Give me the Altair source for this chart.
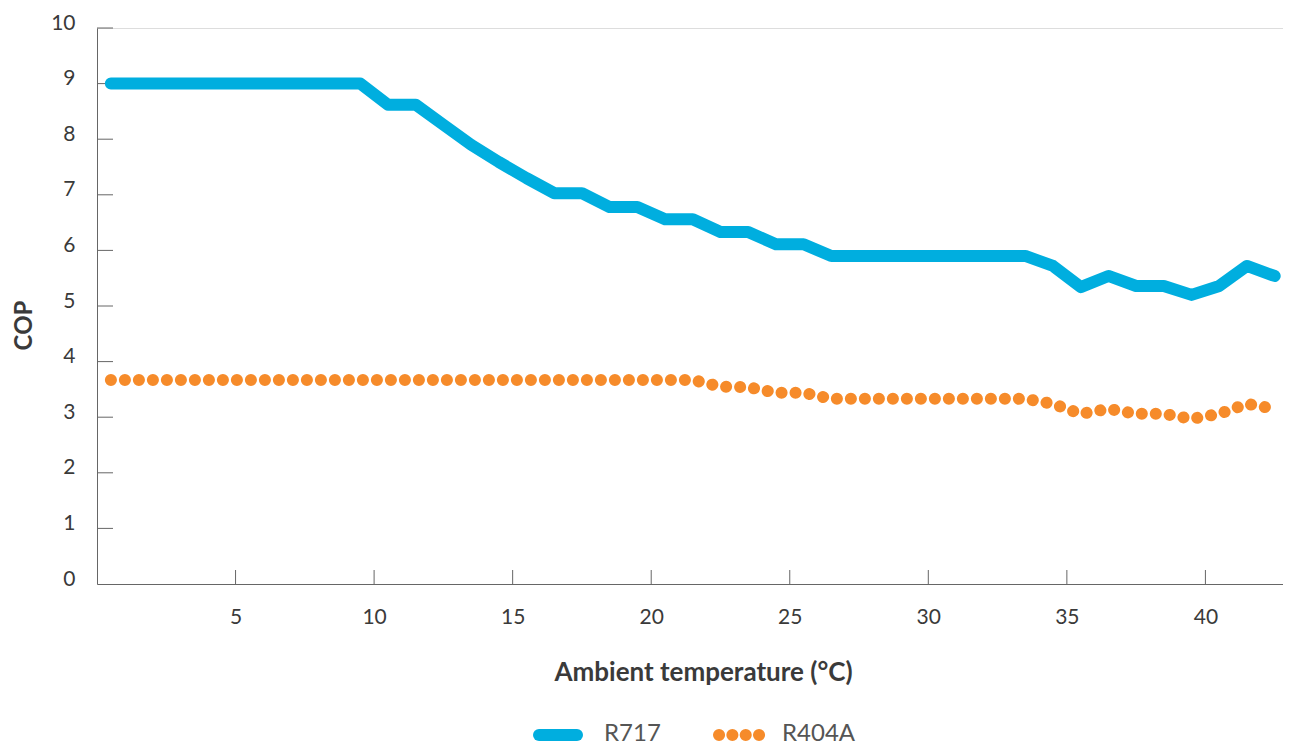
import altair as alt
import pandas as pd

# Data (x positions are category centres on the temperature scale)
temps = [0.5, 1.5, 2.5, 3.5, 4.5, 5.5, 6.5, 7.5, 8.5, 9.5,
         10.5, 11.5, 12.5, 13.5, 14.5, 15.5, 16.5, 17.5, 18.5, 19.5,
         20.5, 21.5, 22.5, 23.5, 24.5, 25.5, 26.5, 27.5, 28.5, 29.5,
         30.5, 31.5, 32.5, 33.5, 34.5, 35.5, 36.5, 37.5, 38.5, 39.5,
         40.5, 41.5, 42.5]
r717 = [9.0, 9.0, 9.0, 9.0, 9.0, 9.0, 9.0, 9.0, 9.0, 9.0,
        8.62, 8.62, 8.26, 7.9, 7.59, 7.3, 7.03, 7.03, 6.78, 6.78,
        6.56, 6.56, 6.33, 6.33, 6.11, 6.11, 5.9, 5.9, 5.9, 5.9,
        5.9, 5.9, 5.9, 5.9, 5.72, 5.34, 5.54, 5.36, 5.36, 5.2,
        5.36, 5.72, 5.54]
r404a = [3.67, 3.67, 3.67, 3.67, 3.67, 3.67, 3.67, 3.67, 3.67, 3.67,
         3.67, 3.67, 3.67, 3.67, 3.67, 3.67, 3.67, 3.67, 3.67, 3.67,
         3.67, 3.67, 3.55, 3.54, 3.44, 3.44, 3.33, 3.33, 3.33, 3.33,
         3.33, 3.33, 3.33, 3.33, 3.24, 3.06, 3.15, 3.06, 3.06, 2.97,
         3.06, 3.24, 3.15]
y_ticks = [1, 2, 3, 4, 5, 6, 7, 8, 9, 10]
x_ticks = [5, 10, 15, 20, 25, 30, 35, 40]
series_names = ["R717", "R404A"]

BLUE = "#00AEDF"
ORANGE = "#F68B2A"
TEXT = "#3a3a3a"
AXIS = "#666666"
FONT = "Lato"
W, H = 1186, 556

df717 = pd.DataFrame({"t": temps, "cop": r717})
df404 = pd.DataFrame({"t": temps, "cop": r404a})

xscale = alt.Scale(domain=[0, 42.8], nice=False, zero=False)
yscale = alt.Scale(domain=[0, 10], nice=False)

xaxis = alt.Axis(values=x_ticks, ticks=False, tickSize=0, grid=False,
                 domainColor=AXIS, labelFontSize=21, labelColor=TEXT,
                 labelFont=FONT, labelPadding=33, labelBaseline="middle",
                 title="Ambient temperature (°C)", titleFont=FONT,
                 titleFontSize=26, titleFontWeight="bold", titleColor=TEXT,
                 titleX=606, titleY=88, titleBaseline="middle")
yaxis = alt.Axis(values=[0] + y_ticks, ticks=False, tickSize=0, grid=False,
                 domainColor=AXIS, labelFontSize=21, labelColor=TEXT,
                 labelFont=FONT, labelPadding=22, labelOffset=-5,
                 title="COP", titleFont=FONT, titleFontSize=24,
                 titleFontWeight="bold", titleColor=TEXT, titleAngle=-90,
                 titleX=-73, titleY=297, titleBaseline="middle")

line717 = alt.Chart(df717).mark_line(
    color=BLUE, strokeWidth=12, strokeCap="round", strokeJoin="round"
).encode(
    x=alt.X("t:Q", scale=xscale, axis=xaxis),
    y=alt.Y("cop:Q", scale=yscale, axis=yaxis),
)

line404 = alt.Chart(df404).mark_line(
    color=ORANGE, strokeWidth=12, strokeCap="round", strokeDash=[0.1, 13.9]
).encode(
    x=alt.X("t:Q", scale=xscale),
    y=alt.Y("cop:Q", scale=yscale),
)

yt = alt.Chart(pd.DataFrame({"v": y_ticks})).mark_rule(
    color=AXIS, strokeWidth=1
).encode(
    y=alt.Y("v:Q", scale=yscale),
    x=alt.value(0), x2=alt.value(16),
)
xt = alt.Chart(pd.DataFrame({"v": x_ticks})).mark_rule(
    color=AXIS, strokeWidth=1
).encode(
    x=alt.X("v:Q", scale=xscale),
    y=alt.value(H - 14), y2=alt.value(H),
)

# Legend
LEG_Y = 707
leg_blue = alt.Chart(pd.DataFrame({"s": [series_names[0]]})).mark_rule(
    color=BLUE, strokeWidth=12, strokeCap="round"
).encode(x=alt.value(442), x2=alt.value(480), y=alt.value(LEG_Y))
leg_orange = alt.Chart(pd.DataFrame({"s": [series_names[1]]})).mark_rule(
    color=ORANGE, strokeWidth=12, strokeCap="round", strokeDash=[0.1, 13.23]
).encode(x=alt.value(622), x2=alt.value(662.2), y=alt.value(LEG_Y))
leg_text = alt.Chart(pd.DataFrame({"s": series_names, "px": [507, 685]})).mark_text(
    align="left", baseline="middle", fontSize=24, font=FONT, color="#555555"
).encode(x=alt.X("px:Q", scale=None), y=alt.value(LEG_Y - 1), text="s:N")

chart = alt.layer(yt, xt, line404, line717, leg_blue, leg_orange, leg_text).properties(
    width=W, height=H,
    padding={"left": 89, "top": 20, "right": 0, "bottom": 164},
    autosize=alt.AutoSizeParams(type="none"),
).configure_view(stroke=None).configure(background="white")

chart.save("out.html", embed_options={"renderer": "svg", "actions": False})
